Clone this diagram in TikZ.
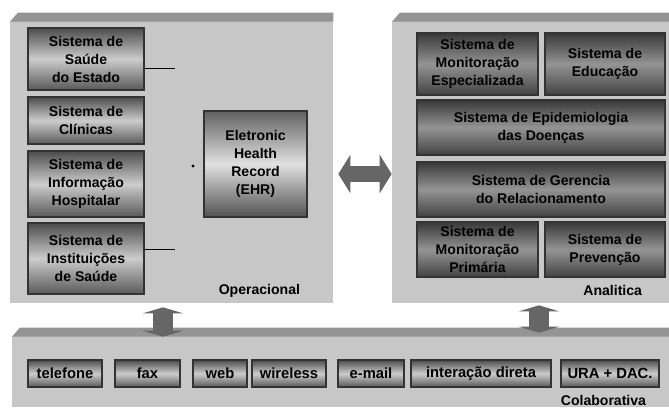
\documentclass[tikz,border=0pt]{standalone}
\usepackage{fontspec}
\setmainfont{Liberation Sans}
\usetikzlibrary{arrows.meta}
\usetikzlibrary{calc}

\begin{document}
\begin{tikzpicture}[x=0.025cm, y=-0.025cm,
			panel/.style={fill=black!22, draw=none, inner sep=0pt},
			band/.style={fill=black!42},
			sysbox/.style={draw=black!80, thick, shading=axis, top color=black!70, bottom color=black!65, middle color=black!20, inner sep=0pt, align=center, font=\bfseries\fontsize{10}{12.8}\selectfont},
			darkbox/.style={sysbox, top color=black!78, bottom color=black!74, middle color=black!42},
			chanbox/.style={sysbox, minimum height=0.675cm, font=\bfseries\fontsize{10.5}{11}\selectfont},
			tag/.style={anchor=east, font=\bfseries\fontsize{10}{12}\selectfont},
			hdbl/.style={draw=black!60, line width=0.4cm, {Triangle[width=0.95cm,length=0.3cm]}-{Triangle[width=0.95cm,length=0.3cm]}},
			vdbl/.style={draw=black!60, line width=0.5cm, {Triangle[width=1cm,length=0.15cm]}-{Triangle[width=1cm,length=0.15cm]}}]
			\useasboundingbox (0,0) rectangle (669,407);
			% the three layers
			\node[panel, minimum width=8.075cm, minimum height=7.25cm] (lp) at (171.5,158) {};
			\node[panel, minimum width=6.925cm, minimum height=7.25cm] (rp) at (530.5,158) {};
			\node[panel, minimum width=16.425cm, minimum height=1.975cm] (bp) at (340.5,367.5) {};
			\foreach \p in {lp,rp,bp} {
				\fill[band] ([yshift=-0.225cm]\p.north west) -- ([xshift=0.2cm]\p.north west) -- (\p.north east) -- ([yshift=-0.225cm]\p.north east) -- cycle;
				\fill[white] (\p.north west) -- ([xshift=0.2cm]\p.north west) -- ([yshift=-0.225cm]\p.north west) -- cycle;
			}
			% operacional
			\node[sysbox, minimum width=2.9cm, minimum height=1.55cm] (s1) at (86,59) {Sistema de\\Saúde\\do Estado};
			\node[sysbox, minimum width=2.9cm, minimum height=1.175cm] (s2) at (86,120.5) {Sistema de\\Clínicas};
			\node[sysbox, minimum width=2.9cm, minimum height=1.65cm] (s3) at (86,184) {Sistema de\\Informação\\Hospitalar};
			\node[sysbox, minimum width=2.9cm, minimum height=1.775cm] (s4) at (86,258.5) {Sistema de\\Instituições\\de Saúde};
			\node[sysbox, minimum width=2.575cm, minimum height=2.65cm, top color=black!62, bottom color=black!68, middle color=black!12] (ehr) at (255.5,164) {Eletronic\\Health\\Record\\(EHR)};
			\coordinate (t1) at (175,68);
			\coordinate (t4) at (175,249);
			\coordinate (dot) at (193,166);
			\draw (t1 -| s1.east) -- (t1);
			\draw (t4 -| s4.east) -- (t4);
			\fill (dot) circle (0.04cm);
			\node[tag] (op) at (305,291) {Operacional};
			% analitica
			\node[darkbox, minimum width=3.025cm, minimum height=1.55cm] (me) at (477.5,64) {Sistema de\\Monitoração\\Especializada};
			\node[darkbox, minimum width=3cm, minimum height=1.55cm] (ed) at (605,64) {Sistema de\\Educação};
			\node[darkbox, minimum width=6.2cm, minimum height=1.375cm] (ep) at (541,127.5) {Sistema de Epidemiologia\\das Doenças};
			\node[darkbox, minimum width=6.2cm, minimum height=1.375cm] (gr) at (541,189.5) {Sistema de Gerencia\\do Relacionamento};
			\node[darkbox, minimum width=3.025cm, minimum height=1.375cm] (mp) at (477.5,249.5) {Sistema de\\Monitoração\\Primária};
			\node[darkbox, minimum width=3cm, minimum height=1.375cm] (pv) at (605,249.5) {Sistema de\\Prevenção};
			\node[tag] (an) at (647,290) {Analitica};
			% colaborativa
			\foreach \cx/\w/\nm/\txt in {65/1.85/tel/telefone, 147.5/1.625/fax/fax, 220/1.35/web/web, 289/1.85/wir/wireless, 371/1.65/eml/e-mail, 481/3.5/int/interação direta, 610/2.45/ura/URA + DAC.}
				\node[chanbox, minimum width=\w cm] (\nm) at (\cx,373.5) {\txt};
			\node[tag] (co) at (651,400) {Colaborativa};
			% arrows between layers
			\coordinate (la) at (163,0);
			\coordinate (ra) at (539,0);
			\draw[hdbl, shorten <=0.125cm] ([yshift=-0.4cm]lp.east) -- ([yshift=-0.4cm]rp.west);
			\draw[vdbl, shorten <=0.1cm] (lp.south -| la) -- ([yshift=-0.225cm]bp.north -| la);
			\draw[vdbl, shorten <=0.05cm] (rp.south -| ra) -- ([yshift=-0.125cm]bp.north -| ra);
		\end{tikzpicture}
\end{document}
